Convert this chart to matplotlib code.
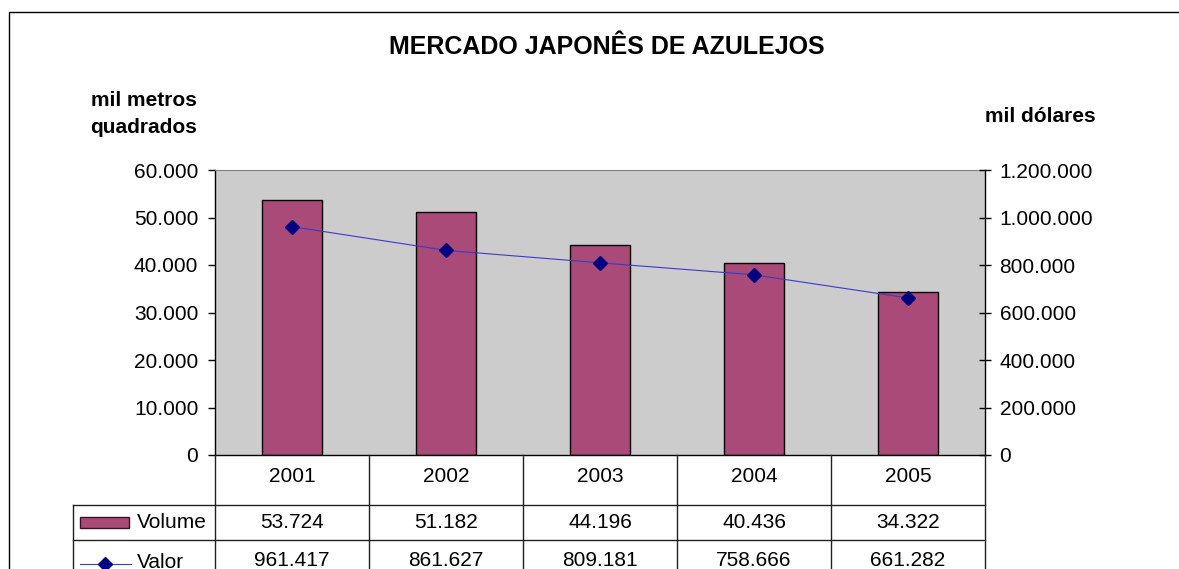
import matplotlib
matplotlib.use("Agg")
import matplotlib.pyplot as plt
from matplotlib.lines import Line2D
from matplotlib.patches import Rectangle
from matplotlib.ticker import FuncFormatter

plt.rcParams['font.family'] = ['Liberation Sans', 'DejaVu Sans']

# dados
anos = ['2001', '2002', '2003', '2004', '2005']
volume = [53724, 51182, 44196, 40436, 34322]
valor = [961417, 861627, 809181, 758666, 661282]

W, H = 1179, 569
BAR_COLOR = '#A94A78'
LINE_COLOR = '#3B3BC8'
MARK_COLOR = '#000080'
FS = 15


def fx(px):
    return px / W


def fy(py):
    return 1 - py / H


def br(v, pos=None):
    return f"{int(round(v)):,}".replace(',', '.')


fig = plt.figure(figsize=(W / 100, H / 100), dpi=100)

# moldura do grafico
fig.add_artist(Rectangle((fx(9), fy(H + 20)), fx(W + 20), fy(12) - fy(H + 20),
                         transform=fig.transFigure, fill=False, ec='black', lw=1))

ax = fig.add_axes([fx(215), fy(455), fx(985 - 215), fy(170) - fy(455)])
ax.set_facecolor('#CCCCCC')
x = list(range(len(anos)))
ax.bar(x, volume, width=0.39, color=BAR_COLOR, edgecolor='black', lw=1, zorder=2)
ax.set_xlim(-0.5, len(anos) - 0.5)
ax.set_ylim(0, 60000)
ax.set_yticks(range(0, 60001, 10000))
ax.yaxis.set_major_formatter(FuncFormatter(br))
ax.set_xticks([])
ax.tick_params(axis='y', direction='out', length=5, width=1, pad=7, labelsize=FS)
ax.spines['top'].set_color('#808080')
ax.spines['right'].set_visible(False)
for s in ['left', 'bottom']:
    ax.spines[s].set_linewidth(1)

ax2 = ax.twinx()
ax2.plot(x, valor, color=LINE_COLOR, lw=0.8, marker='D', ms=7,
         mfc=MARK_COLOR, mec=MARK_COLOR, zorder=3)
ax2.set_ylim(0, 1200000)
ax2.set_yticks(range(0, 1200001, 200000))
ax2.yaxis.set_major_formatter(FuncFormatter(br))
ax2.tick_params(axis='y', direction='inout', length=9, width=1, pad=6, labelsize=FS)
for s in ['top', 'left', 'bottom']:
    ax2.spines[s].set_visible(False)
ax2.spines['right'].set_linewidth(1)

# titulo e rotulos dos eixos
fig.text(fx(607), fy(47), 'MERCADO JAPONÊS DE AZULEJOS', ha='center', va='center',
         fontsize=18, fontweight='bold')
fig.text(fx(144), fy(101), 'mil metros', ha='center', va='center',
         fontsize=FS, fontweight='bold')
fig.text(fx(144), fy(128), 'quadrados', ha='center', va='center',
         fontsize=FS, fontweight='bold')
fig.text(fx(1040), fy(117), 'mil dólares', ha='center', va='center',
         fontsize=FS, fontweight='bold')

# tabela de dados
cols = [215, 369, 523, 677, 831, 985]
lc = '#202020'
for c in cols:
    fig.add_artist(Line2D([fx(c), fx(c)], [fy(455), fy(H + 5)], color=lc, lw=1))
fig.add_artist(Line2D([fx(73), fx(73)], [fy(505), fy(H + 5)], color=lc, lw=1))
for r in [505, 540]:
    fig.add_artist(Line2D([fx(73), fx(985)], [fy(r), fy(r)], color=lc, lw=1))

for i, a in enumerate(anos):
    cx = (cols[i] + cols[i + 1]) / 2
    fig.text(fx(cx), fy(477), a, ha='center', va='center', fontsize=FS)
    fig.text(fx(cx), fy(523), br(volume[i]), ha='center', va='center', fontsize=FS)
    fig.text(fx(cx), fy(561), br(valor[i]), ha='center', va='center', fontsize=FS)

# legenda na tabela
fig.add_artist(Rectangle((fx(80), fy(528)), fx(49), fy(517) - fy(528),
                         transform=fig.transFigure, fc=BAR_COLOR, ec='#40102A', lw=1))
fig.text(fx(137), fy(523), 'Volume', ha='left', va='center', fontsize=FS)
fig.add_artist(Line2D([fx(80), fx(131)], [fy(564), fy(564)], color=LINE_COLOR, lw=0.8))
fig.add_artist(Line2D([fx(105)], [fy(564)], marker='D', ms=7, mfc=MARK_COLOR,
                      mec=MARK_COLOR, lw=0))
fig.text(fx(137), fy(562), 'Valor', ha='left', va='center', fontsize=FS)

fig.savefig('out.png', dpi=100)
